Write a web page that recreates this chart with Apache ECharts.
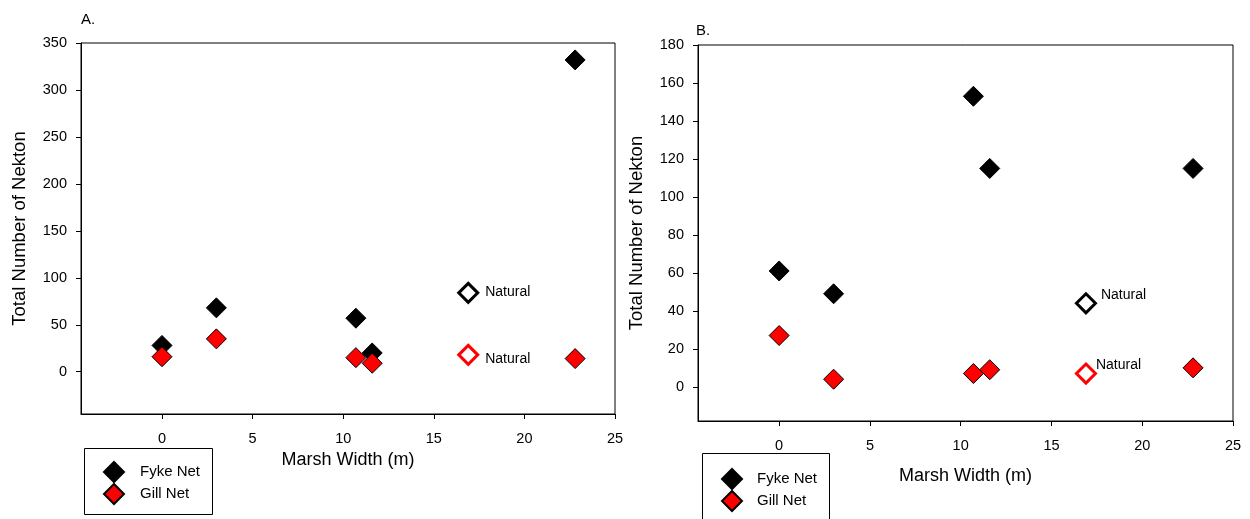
<!DOCTYPE html>
<html>
<head>
<meta charset="utf-8">
<script src="https://cdn.jsdelivr.net/npm/echarts@6/dist/echarts.min.js"></script>
<style>
  html, body { margin: 0; padding: 0; background: #fff; }
  #chart { width: 1250px; height: 519px; }
</style>
</head>
<body>
<div id="chart"></div>
<script>
// Marsh width (m) of each sampled site
const marshWidth = [0, 3, 10.7, 11.6, 22.8];

// Panel A counts
const fykeA = [28, 68, 57, 20, 332];
const gillA = [16, 35, 15, 9, 14];
const naturalWidth = 16.9;
const naturalFykeA = 84;
const naturalGillA = 18;

// Panel B counts
const fykeB = [61, 49, 153, 115, 115];
const gillB = [27, 4, 7, 9, 10];
const naturalFykeB = 44;
const naturalGillB = 7;

// Tick labels
const xTicks = [0, 5, 10, 15, 20, 25];
const yTicksA = [0, 50, 100, 150, 200, 250, 300, 350];
const yTicksB = [0, 20, 40, 60, 80, 100, 120, 140, 160, 180];

const FONT = 'Liberation Sans, Arial, sans-serif';
const pairs = ys => marshWidth.map((x, i) => [x, ys[i]]);

function xAxis(gridIndex, nameGap) {
  return {
    type: 'value', gridIndex, min: -4.47, max: 25,
    name: 'Marsh Width (m)', nameLocation: 'middle', nameGap,
    nameTextStyle: { fontFamily: FONT, fontSize: 18, color: '#000' },
    splitLine: { show: false },
    axisLine: { show: true, onZero: false, lineStyle: { color: '#000', width: 1 } },
    axisTick: { show: true, inside: false, length: 5, customValues: xTicks, lineStyle: { color: '#000' } },
    axisLabel: { customValues: xTicks, fontFamily: FONT, fontSize: 14.5, color: '#000', margin: 17 }
  };
}
function yAxis(gridIndex, min, max, ticks, nameGap) {
  return {
    type: 'value', gridIndex, min, max,
    name: 'Total Number of Nekton', nameLocation: 'middle', nameGap,
    nameTextStyle: { fontFamily: FONT, fontSize: 18.5, color: '#000' },
    splitLine: { show: false },
    axisLine: { show: true, onZero: false, lineStyle: { color: '#000', width: 1 } },
    axisTick: { show: true, inside: false, length: 5, customValues: ticks, lineStyle: { color: '#000' } },
    axisLabel: { customValues: ticks, fontFamily: FONT, fontSize: 14.5, color: '#000', margin: 14 }
  };
}

const fykeStyle = { color: '#000', borderColor: '#000', borderWidth: 1, opacity: 1 };
const gillStyle = { color: '#ff0000', borderColor: '#000', borderWidth: 1, opacity: 1 };

function scatter(name, idx, data, style) {
  return {
    name, type: 'scatter', xAxisIndex: idx, yAxisIndex: idx,
    symbol: 'diamond', symbolSize: 20, data, itemStyle: style,
    emphasis: { disabled: true }, z: name === 'Fyke Net' ? 3 : 4
  };
}
function natural(idx, value, color, distance, labelOffset) {
  return {
    name: 'Natural', type: 'scatter', xAxisIndex: idx, yAxisIndex: idx,
    symbol: 'diamond', symbolSize: 19,
    data: [[naturalWidth, value]],
    itemStyle: { color: '#fff', borderColor: color, borderWidth: 3, opacity: 1 },
    label: {
      show: true, formatter: 'Natural', position: 'right', distance,
      offset: labelOffset, fontFamily: FONT, fontSize: 14, color: '#000'
    },
    emphasis: { disabled: true }, z: 5
  };
}

// Legend entries (box outline is drawn separately as a graphic rect)
const legendBase = {
  orient: 'vertical', data: ['Fyke Net', 'Gill Net'],
  icon: 'diamond', itemWidth: 20, itemHeight: 20, itemGap: 0,
  height: 200, padding: 0,
  textStyle: { fontFamily: FONT, fontSize: 15, color: '#000' },
  selectedMode: false
};

const chart = echarts.init(document.getElementById('chart'), null, { renderer: 'canvas' });
chart.setOption({
  backgroundColor: '#fff',
  animation: false,
  title: [
    { text: 'A.', left: 76, top: 7, textStyle: { fontFamily: FONT, fontSize: 15, fontWeight: 'normal', color: '#000' } },
    { text: 'B.', left: 691, top: 18, textStyle: { fontFamily: FONT, fontSize: 15, fontWeight: 'normal', color: '#000' } }
  ],
  grid: [
    { left: 81, top: 43, width: 534, height: 371, show: true, borderColor: '#000', borderWidth: 1, backgroundColor: 'transparent' },
    { left: 698, top: 45, width: 535, height: 376, show: true, borderColor: '#000', borderWidth: 1, backgroundColor: 'transparent' }
  ],
  xAxis: [xAxis(0, 37), xAxis(1, 46)],
  yAxis: [yAxis(0, -45, 350, yTicksA, 52), yAxis(1, -18, 180, yTicksB, 52)],
  legend: [
    Object.assign({}, legendBase, { left: 103, top: 461, textStyle: Object.assign({}, legendBase.textStyle, { padding: [0, 0, 0, 11] }) }),
    Object.assign({}, legendBase, { left: 721, top: 468, textStyle: Object.assign({}, legendBase.textStyle, { padding: [0, 0, 0, 10] }) })
  ],
  graphic: [
    { type: 'rect', shape: { x: 84.5, y: 448.5, width: 128, height: 66 }, style: { fill: 'none', stroke: '#000', lineWidth: 1 }, silent: true },
    { type: 'rect', shape: { x: 702.5, y: 453.5, width: 127, height: 80 }, style: { fill: 'none', stroke: '#000', lineWidth: 1 }, silent: true }
  ],
  series: [
    scatter('Fyke Net', 0, pairs(fykeA), fykeStyle),
    scatter('Gill Net', 0, pairs(gillA), gillStyle),
    natural(0, naturalFykeA, '#000', 6, [0, -1]),
    natural(0, naturalGillA, '#ff0000', 6, [0, 4]),
    scatter('Fyke Net', 1, pairs(fykeB), fykeStyle),
    scatter('Gill Net', 1, pairs(gillB), gillStyle),
    natural(1, naturalFykeB, '#000', 4, [0, -8]),
    natural(1, naturalGillB, '#ff0000', 4, [-5, -8])
  ]
});
</script>
</body>
</html>
